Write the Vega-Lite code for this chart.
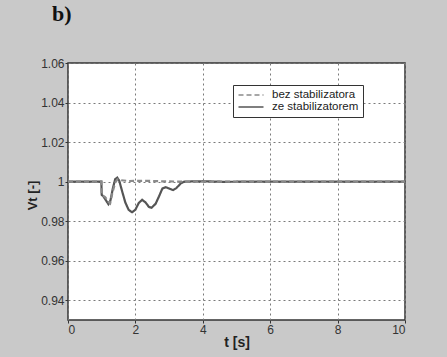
{
  "$schema": "https://vega.github.io/schema/vega-lite/v6.json",
  "width": 337,
  "height": 257,
  "autosize": {"type": "none"},
  "padding": {"left": 68, "top": 63, "right": 42, "bottom": 37},
  "background": "#c9c9c9",
  "title": {
    "text": "b)",
    "anchor": "start",
    "frame": "group",
    "dx": -16,
    "offset": 14,
    "baseline": "alphabetic",
    "font": "Liberation Serif",
    "fontSize": 22,
    "fontWeight": "bold",
    "color": "#111"
  },
  "config": {
    "view": {"fill": "white", "stroke": "#333", "strokeWidth": 1.5},
    "axis": {
      "labelFont": "Liberation Sans",
      "labelFontSize": 12,
      "labelColor": "#333",
      "titleFont": "Liberation Sans",
      "titleFontSize": 14,
      "titleFontWeight": "bold",
      "titleColor": "#222",
      "domain": false,
      "grid": true,
      "gridColor": "#7a7a7a",
      "gridDash": [2, 3],
      "gridWidth": 1,
      "tickColor": "#333",
      "tickSize": 3,
      "labelPadding": 1
    }
  },
  "data": {
    "values": [
      {"t": 0, "v": 1.0, "s": "ze stabilizatorem"},
      {"t": 0.99, "v": 1.0, "s": "ze stabilizatorem"},
      {"t": 1.0, "v": 0.9933, "s": "ze stabilizatorem"},
      {"t": 1.05, "v": 0.9925, "s": "ze stabilizatorem"},
      {"t": 1.1, "v": 0.9912, "s": "ze stabilizatorem"},
      {"t": 1.2, "v": 0.9886, "s": "ze stabilizatorem"},
      {"t": 1.26, "v": 0.9905, "s": "ze stabilizatorem"},
      {"t": 1.33, "v": 0.9965, "s": "ze stabilizatorem"},
      {"t": 1.4, "v": 1.0012, "s": "ze stabilizatorem"},
      {"t": 1.46, "v": 1.0020, "s": "ze stabilizatorem"},
      {"t": 1.52, "v": 1.0005, "s": "ze stabilizatorem"},
      {"t": 1.6, "v": 0.9955, "s": "ze stabilizatorem"},
      {"t": 1.7, "v": 0.9895, "s": "ze stabilizatorem"},
      {"t": 1.8, "v": 0.9857, "s": "ze stabilizatorem"},
      {"t": 1.9, "v": 0.9845, "s": "ze stabilizatorem"},
      {"t": 2.0, "v": 0.9858, "s": "ze stabilizatorem"},
      {"t": 2.1, "v": 0.9892, "s": "ze stabilizatorem"},
      {"t": 2.2, "v": 0.9908, "s": "ze stabilizatorem"},
      {"t": 2.3, "v": 0.9895, "s": "ze stabilizatorem"},
      {"t": 2.4, "v": 0.9872, "s": "ze stabilizatorem"},
      {"t": 2.48, "v": 0.9868, "s": "ze stabilizatorem"},
      {"t": 2.6, "v": 0.9888, "s": "ze stabilizatorem"},
      {"t": 2.7, "v": 0.9925, "s": "ze stabilizatorem"},
      {"t": 2.8, "v": 0.9965, "s": "ze stabilizatorem"},
      {"t": 2.9, "v": 0.9972, "s": "ze stabilizatorem"},
      {"t": 3.0, "v": 0.9965, "s": "ze stabilizatorem"},
      {"t": 3.12, "v": 0.9957, "s": "ze stabilizatorem"},
      {"t": 3.22, "v": 0.9968, "s": "ze stabilizatorem"},
      {"t": 3.35, "v": 0.9992, "s": "ze stabilizatorem"},
      {"t": 3.45, "v": 1.0, "s": "ze stabilizatorem"},
      {"t": 4.0, "v": 1.0002, "s": "ze stabilizatorem"},
      {"t": 4.6, "v": 0.9999, "s": "ze stabilizatorem"},
      {"t": 5.5, "v": 1.0, "s": "ze stabilizatorem"},
      {"t": 10, "v": 1.0, "s": "ze stabilizatorem"},
      {"t": 0, "v": 1.0, "s": "bez stabilizatora"},
      {"t": 0.99, "v": 1.0, "s": "bez stabilizatora"},
      {"t": 1.0, "v": 0.9933, "s": "bez stabilizatora"},
      {"t": 1.1, "v": 0.9922, "s": "bez stabilizatora"},
      {"t": 1.2, "v": 0.9898, "s": "bez stabilizatora"},
      {"t": 1.25, "v": 0.9890, "s": "bez stabilizatora"},
      {"t": 1.32, "v": 0.9945, "s": "bez stabilizatora"},
      {"t": 1.4, "v": 0.9995, "s": "bez stabilizatora"},
      {"t": 1.47, "v": 1.0012, "s": "bez stabilizatora"},
      {"t": 1.58, "v": 1.0007, "s": "bez stabilizatora"},
      {"t": 1.8, "v": 1.0003, "s": "bez stabilizatora"},
      {"t": 2.3, "v": 1.0004, "s": "bez stabilizatora"},
      {"t": 2.9, "v": 1.0001, "s": "bez stabilizatora"},
      {"t": 3.5, "v": 1.0, "s": "bez stabilizatora"},
      {"t": 10, "v": 1.0, "s": "bez stabilizatora"}
    ]
  },
  "mark": {"type": "line", "strokeWidth": 2.2},
  "encoding": {
    "x": {
      "field": "t",
      "type": "quantitative",
      "scale": {"domain": [0, 10], "nice": false},
      "axis": {"values": [0, 2, 4, 6, 8, 10], "title": "t [s]", "titleY": 22, "titleBaseline": "middle"}
    },
    "y": {
      "field": "v",
      "type": "quantitative",
      "scale": {"domain": [0.93, 1.06], "nice": false, "zero": false},
      "axis": {
        "values": [0.94, 0.96, 0.98, 1, 1.02, 1.04, 1.06],
        "format": "~g",
        "title": "Vt [-]",
        "titleFontSize": 13,
        "titleX": -36,
        "titleY": 132,
        "titleBaseline": "middle"
      }
    },
    "color": {
      "field": "s",
      "type": "nominal",
      "scale": {"domain": ["bez stabilizatora", "ze stabilizatorem"], "range": ["#8a8a8a", "#555555"]},
      "legend": {
        "title": null,
        "orient": "none",
        "legendX": 165,
        "legendY": 22,
        "direction": "vertical",
        "fillColor": "white",
        "strokeColor": "#333",
        "padding": 4,
        "rowPadding": 0,
        "labelFont": "Liberation Sans",
        "labelFontSize": 11.5,
        "labelColor": "#222",
        "labelOffset": 15,
        "symbolOffset": 8,
        "symbolType": "M-2.5,0H2.5",
        "symbolSize": 100,
        "symbolStrokeWidth": 1.5
      }
    },
    "strokeDash": {
      "field": "s",
      "type": "nominal",
      "scale": {"domain": ["bez stabilizatora", "ze stabilizatorem"], "range": [[5, 3], [1, 0]]},
      "legend": null
    }
  }
}
